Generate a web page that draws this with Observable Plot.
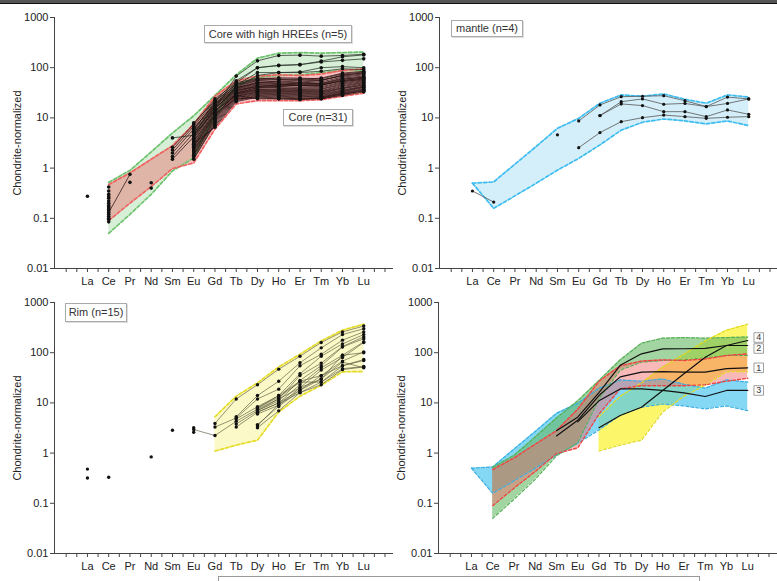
<!DOCTYPE html>
<html><head><meta charset="utf-8">
<script src="https://cdn.jsdelivr.net/npm/d3@7"></script>
<script src="https://cdn.jsdelivr.net/npm/@observablehq/plot@0.6"></script>
<style>
body{margin:0;background:#fff;}
#wrap{position:relative;width:777px;height:581px;overflow:hidden;background:#fff;font-family:"Liberation Sans",Arial,sans-serif;}
#wrap svg{position:absolute;overflow:visible;background:none;}
.lab{position:absolute;box-sizing:border-box;border:1px solid #aaa;background:#fff;font-size:11px;color:#333;text-align:center;white-space:nowrap;box-shadow:1px 1px 0 #ddd;}
#topbar{position:absolute;left:0;top:0;width:777px;height:3px;background:#555;border-bottom:1.5px solid #111;}
#capbox{position:absolute;left:218px;top:576px;width:482px;height:20px;border:1px solid #999;box-sizing:border-box;}
</style></head><body><div id="wrap"><div id="topbar"></div><div id="capbox"></div></div>
<script>
const REE = ["La","Ce","Pr","Nd","Sm","Eu","Gd","Tb","Dy","Ho","Er","Tm","Yb","Lu"];
const yTicks = [0.01, 0.1, 1, 10, 100, 1000];
const yLabel = "Chondrite-normalized";

// ---- Panel: Core (n=31) and Core with high HREEs (n=5)
const coreCols = ["Ce","Pr","Nd","Sm","Eu","Gd","Tb","Dy","Ho","Er","Tm","Yb","Lu"];
const coreLines = [
  [0.42, null, null, 2.6, 7.5, 24, 50, 62, 60, 58, 62, 78, 85],
  [0.35, null, null, 2.3, 6.8, 22, 46, 58, 57, 55, 56, 70, 80],
  [0.30, null, null, 2.0, 6.0, 20, 42, 55, 52, 50, 52, 65, 72],
  [0.27, null, null, null, 5.5, 19, 40, 52, 50, 48, 49, 62, 68],
  [0.25, null, null, 1.7, 5.0, 18, 38, 48, 47, 46, 47, 58, 66],
  [0.22, null, null, null, 4.6, 17, 37, 46, 45, 44, 45, 55, 62],
  [0.20, null, null, 1.5, 4.2, 16, 35, 45, 44, 43, 42, 52, 60],
  [0.18, null, null, null, 4.0, 15, 34, 43, 42, 40, 40, 50, 57],
  [0.17, null, null, null, 3.6, 14, 33, 42, 40, 38, 38, 48, 55],
  [0.16, null, null, null, 3.3, 13.5, 32, 40, 39, 37, 37, 46, 53],
  [0.15, null, null, null, 3.0, 13, 31, 38, 37, 36, 35, 44, 51],
  [0.14, null, null, null, 2.8, 12, 30, 37, 36, 35, 34, 42, 50],
  [0.13, 0.75, null, null, 2.6, 11.5, 30, 36, 35, 34, 33, 40, 48],
  [0.12, null, null, null, 2.4, 11, 29, 35, 34, 33, 32, 39, 46],
  [0.11, null, null, null, 2.2, 10.5, 28, 34, 33, 32, 31, 38, 45],
  [0.10, null, null, null, 2.0, 10, 27, 33, 32, 31, 30, 36, 43],
  [0.095, null, null, null, 1.9, 9.5, 27, 32, 31, 30, 29, 35, 42],
  [0.085, null, null, null, 1.8, 9, 26, 31, 30, 29, 28, 34, 41],
  [null, null, null, null, 1.7, 8.5, 25, 30, 29, 28, 27, 33, 40],
  [null, null, null, null, 1.55, 8, 24, 29, 28, 27, 26, 32, 38],
  [null, null, null, null, 1.5, 7.5, 23, 28, 27, 26, 26, 31, 37],
  [null, null, null, null, 2.5, 7, 22, 27, 26, 25, 25, 30, 36],
  [null, null, null, null, 3.1, 6.5, 21, 26, 25, 24, 24, 29, 35],
  [null, null, null, null, 3.5, 12, 24, 25, 24, 24, 24, 28, 33],
  [null, null, null, null, 4.5, 14, 28, 24, 24, 23, 25, 30, 34],
  [null, null, null, null, 5.2, 16, 36, 42, 46, 50, 48, 60, 64],
  [null, null, null, null, 6.2, 19, 44, 56, 58, 60, 57, 68, 75],
  [null, null, null, null, 3.9, 15, 40, 50, 54, 52, 55, 72, 78],
  [null, null, null, null, 2.7, 11, 31, 40, 42, 45, 44, 56, 62],
  [null, null, null, null, 5.8, 21, 47, 60, 63, 62, 60, 75, 82],
  [null, null, null, null, 4.8, 18, 39, 50, 48, 44, 46, 54, 58]
];
const hreeLines = [
  [null, null, null, 4.0, 4.5, 15, 68, 137, 175, 178, 170, 175, 185],
  [null, null, null, null, 8.0, 22, 55, 100, 112, 115, 135, 165, 180],
  [null, null, null, null, 5.0, 18, 50, 100, 110, 115, 130, 140, 150],
  [null, null, null, null, 3.0, 12, 45, 80, 80, 82, 100, 105, 100],
  [null, null, null, null, 2.2, 9.5, 40, 70, 80, 80, 85, 95, 92]
];
const coreDotEl = ["La", "Pr", "Nd", "Nd"];
const coreDotVal = [0.275, 0.52, 0.51, 0.40];
const coreEnvUpper = [0.47, 0.8, 1.5, 2.8, 7.5, 27, 55, 68, 72, 70, 75, 88, 95];
const coreEnvLower = [0.09, 0.2, 0.43, 0.98, 1.27, 6, 19, 22, 22, 22, 23, 27, 31];
const hreeEnvUpper = [0.52, 0.9, 2.1, 5, 11, 28, 72, 155, 195, 200, 195, 200, 205];
const hreeEnvLower = [0.05, 0.12, 0.3, 0.88, 1.6, 12, 45, 65, 70, 72, 80, 88, 88];

// ---- Panel: mantle (n=4)
const mantleCols = REE;
const mantleLines = [
  [0.35, 0.21, null, null, null, null, null, null, null, null, null, null, null, null],
  [null, null, null, null, null, 8.7, 18.1, 26.5, 27, 27.7, 22, 16.8, 26, 23.9],
  [null, null, null, null, null, null, 11.1, 21, 23.9, 18.7, 19.4, 16.8, 19.4, 23.9],
  [null, null, null, null, null, null, 11.1, 19, 17.6, 13.3, 13.3, 10.6, 14.4, 11.8],
  [null, null, null, null, null, 2.55, 5.1, 8.4, 10.1, 11.4, 10.6, 9.8, 10.3, 10.6]
];
const mantleDotEl = ["Sm"];
const mantleDotVal = [4.6];
const mantleEnvUpper = [0.5, 0.53, 1.2, 2.7, 6.2, 9.8, 19.6, 28.7, 27, 30, 23.5, 19.6, 28.7, 26];
const mantleEnvLower = [0.5, 0.158, 0.28, 0.5, 0.91, 1.56, 2.9, 5.7, 8.2, 9.5, 8.7, 7.6, 8.7, 7.0];

// ---- Panel: Rim (n=15)
const rimCols = ["Eu","Gd","Tb","Dy","Ho","Er","Tm","Yb","Lu"];
const rimLines = [
  [null, 3.9, 12, 23, 47, 85, 160, 260, 340],
  [null, null, 5.3, 14, 27, 63, 125, 230, 300],
  [null, 3.3, 5.0, 12, 18.8, 55, 93, 178, 260],
  [null, null, 4.8, 8.4, 14, 38, 85, 150, 230],
  [2.95, 2.24, 4.3, 7.5, 12, 35, 62, 133, 207],
  [null, null, 3.8, 7, 11, 28, 55, 130, 190],
  [null, null, 3.3, 6.5, 10, 23, 50, 89, 165],
  [null, null, null, 6, 9, 20, 45, 80, 160],
  [null, null, null, 7.8, 14, 27, 35, 68, 104],
  [null, null, null, 3.7, 8.5, 17.9, 30, 89, 100],
  [null, null, null, 3.2, 6.95, 16, 26, 55, 73],
  [null, null, null, 6.5, 10, 17.9, 35, 55, 70],
  [null, null, null, 3.5, 9.5, 16, 23, 46, 52],
  [null, null, null, 7, 12, 20, 30, 65, 50],
  [null, null, null, 8, 13, 26, 26, 48, 53]
];
const rimDotEl = ["La", "La", "Ce", "Nd", "Sm", "Eu", "Eu"];
const rimDotVal = [0.48, 0.32, 0.33, 0.84, 2.86, 3.2, 2.6];
const rimEnvCols = ["Gd","Tb","Dy","Ho","Er","Tm","Yb","Lu"];
const rimEnvUpper = [5.3, 13.6, 25, 52, 93, 172, 281, 370];
const rimEnvLower = [1.1, 1.44, 1.81, 6.6, 13.6, 22.5, 41.6, 42];

// ---- Composite: mean patterns 1 core, 2 core high HREEs, 3 mantle, 4 rim
const meanCols = ["Sm","Eu","Gd","Tb","Dy","Ho","Er","Tm","Yb","Lu"];
const meanNames = ["1", "2", "3", "4"];
const meanLines = [
  [2.2, 4.5, 14, 33, 41, 42, 41, 41, 48, 50],
  [2.8, 5.2, 16, 56, 95, 119, 120, 122, 139, 139],
  [null, 4.2, 11, 19, 19, 17.7, 15.9, 13.4, 17.7, 17.7],
  [null, null, 3.2, 5.6, 8.2, 17.7, 38, 81, 139, 175]
];

// ---------- helpers
const wrap = document.getElementById("wrap");
function lineRows(cols, lines) {
  return lines.flatMap((arr, k) => arr.map((v, j) => ({k, i: REE.indexOf(cols[j]), v})));
}
function dotRows(els, vals) { return els.map((e, j) => ({i: REE.indexOf(e), v: vals[j]})); }
function envRows(cols, up, lo) {
  return cols.map((c, j) => ({i: REE.indexOf(c), hi: up[j], lo: lo[j]}));
}
function envFill(rows, fill, op) {
  return Plot.areaY(rows, {x: "i", y1: "lo", y2: "hi", fill, fillOpacity: op});
}
function envEdges(rows, stroke, w, dash) {
  return [
    Plot.line(rows, {x: "i", y: "hi", stroke, strokeWidth: w, strokeDasharray: dash}),
    Plot.line(rows, {x: "i", y: "lo", stroke, strokeWidth: w, strokeDasharray: dash})
  ];
}
function seriesMarks(rows, stroke, sw, op, r) {
  return [
    Plot.line(rows, {x: "i", y: "v", z: "k", stroke, strokeWidth: sw, strokeOpacity: op}),
    Plot.dot(rows.filter(d => d.v != null), {x: "i", y: "v", r: r, fill: "#111", stroke: "none"})
  ];
}
function addPanel(left, top, marks) {
  const svg = Plot.plot({
    width: 400, height: 290,
    marginLeft: 54, marginRight: 7, marginTop: 17, marginBottom: 22,
    style: {fontFamily: "Liberation Sans, Arial, sans-serif", fontSize: "11px", color: "#222", background: "none", overflow: "visible"},
    x: {type: "linear", domain: [-1.55, 14.4]},
    y: {type: "log", domain: [0.01, 1000]},
    marks: [
      ...marks,
      Plot.ruleX([-1.55], {stroke: "#444", strokeWidth: 1}),
      Plot.ruleY([0.01], {stroke: "#444", strokeWidth: 1}),
      Plot.axisX({ticks: d3.range(-1, 14.5, 0.5), tickSize: 4, tickFormat: () => "", label: null, stroke: "#444"}),
      Plot.axisX({ticks: d3.range(0, 14), tickSize: 0, tickPadding: 9, tickFormat: i => REE[i], label: null, fill: "#222"}),
      Plot.axisY({ticks: yTicks, tickFormat: d => String(d), tickSize: 4, tickPadding: 2, stroke: "#444", fill: "#222",
                  label: yLabel, labelAnchor: "center", labelArrow: "none", labelOffset: 41})
    ]
  });
  svg.style.position = "absolute";
  svg.style.left = left + "px";
  svg.style.top = top + "px";
  wrap.appendChild(svg);
}
function addLabel(text, left, top, w, h) {
  const d = document.createElement("div");
  d.className = "lab";
  d.textContent = text;
  Object.assign(d.style, {left: left + "px", top: top + "px", width: w + "px", height: h + "px", lineHeight: (h - 2) + "px"});
  wrap.appendChild(d);
}

// envelopes
const coreEnv = envRows(coreCols, coreEnvUpper, coreEnvLower);
const hreeEnv = envRows(coreCols, hreeEnvUpper, hreeEnvLower);
const mantleEnv = envRows(mantleCols, mantleEnvUpper, mantleEnvLower);
const rimEnv = envRows(rimEnvCols, rimEnvUpper, rimEnvLower);

// Panel 1 (top-left)
addPanel(0, 0, [
  envFill(hreeEnv, "rgb(110,195,110)", 0.28),
  envFill(coreEnv, "rgb(235,90,90)", 0.38),
  ...envEdges(hreeEnv, "#6cc26c", 1.7, "3.5,2"),
  ...envEdges(coreEnv, "#f06060", 1.7, "3.5,2"),
  ...seriesMarks(lineRows(coreCols, coreLines), "#2a1010", 0.8, 0.95, 1.8),
  ...seriesMarks(lineRows(coreCols, hreeLines), "#1e2a1e", 0.8, 0.9, 1.8),
  Plot.dot(dotRows(coreDotEl, coreDotVal), {x: "i", y: "v", r: 1.8, fill: "#111"})
]);

// Panel 2 (top-right)
addPanel(385, 0, [
  envFill(mantleEnv, "rgb(120,205,240)", 0.32),
  ...envEdges(mantleEnv, "#3cbcef", 1.7, "3.5,2"),
  ...seriesMarks(lineRows(mantleCols, mantleLines), "#555", 0.8, 1, 1.6),
  Plot.dot(dotRows(mantleDotEl, mantleDotVal), {x: "i", y: "v", r: 1.6, fill: "#111"})
]);

// Panel 3 (bottom-left)
addPanel(0, 285, [
  envFill(rimEnv, "rgb(248,240,110)", 0.38),
  ...envEdges(rimEnv, "#e6dc28", 1.7, "3.5,2"),
  ...seriesMarks(lineRows(rimCols, rimLines), "#55553a", 0.7, 0.9, 1.7),
  Plot.dot(dotRows(rimDotEl, rimDotVal), {x: "i", y: "v", r: 1.7, fill: "#111"})
]);

// Panel 4 (bottom-right) composite
const meanRows = lineRows(meanCols, meanLines);
const meanEnds = meanLines.map((arr, k) => ({name: meanNames[k], i: REE.indexOf("Lu"), v: arr[arr.length - 1]}));
const labelDy = {"4": -3, "2": 3, "1": 0, "3": 0};
addPanel(384, 285, [
  envFill(rimEnv, "rgb(250,245,80)", 0.85),
  envFill(mantleEnv, "rgb(80,200,240)", 0.7),
  envFill(hreeEnv, "rgb(100,185,100)", 0.6),
  envFill(coreEnv, "rgb(245,100,100)", 0.45),
  ...envEdges(mantleEnv, "#3aaee0", 1.2, "3,2"),
  ...envEdges(hreeEnv, "#55b055", 1.2, "3,2"),
  ...envEdges(rimEnv, "#e2da20", 1.2, "3,2"),
  ...envEdges(coreEnv, "#f04444", 1.4, "3,2"),
  Plot.line(meanRows, {x: "i", y: "v", z: "k", stroke: "#111", strokeWidth: 1.2}),
  ...meanEnds.map(d => Plot.dot([d], {x: "i", y: "v", dx: 11, dy: labelDy[d.name], symbol: "square", r: 5.4, fill: "#fff", stroke: "#888", strokeWidth: 0.8})),
  ...meanEnds.map(d => Plot.text([d], {x: "i", y: "v", text: "name", dx: 11, dy: labelDy[d.name], fontSize: 9, fill: "#333"}))
]);

// legend-style boxes
addLabel("Core with high HREEs (n=5)", 204, 25, 148, 18);
addLabel("Core (n=31)", 283, 109, 70, 17);
addLabel("mantle (n=4)", 451, 20, 72, 17);
addLabel("Rim (n=15)", 65, 303, 62, 19);
</script></body></html>
